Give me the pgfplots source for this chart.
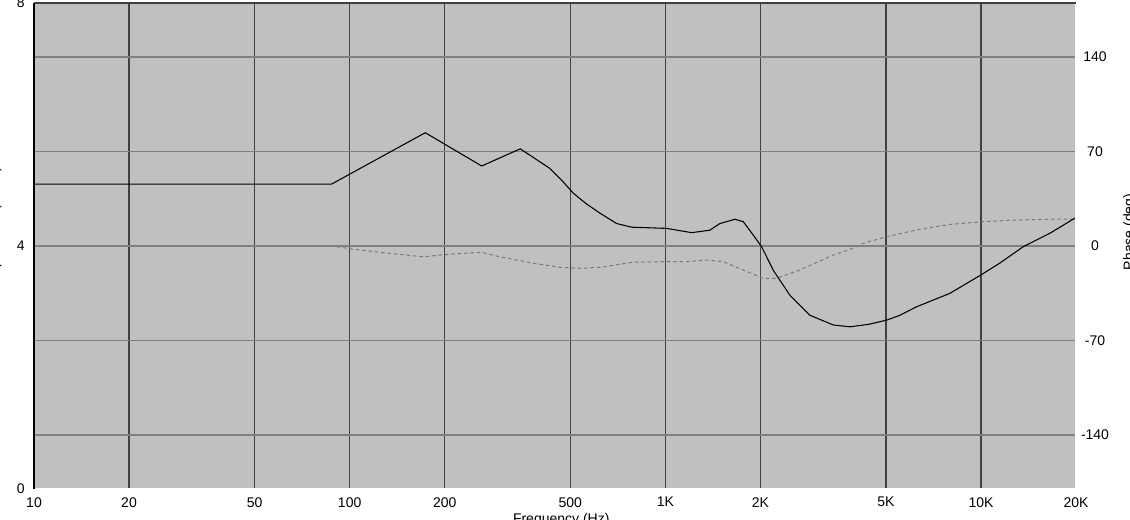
\documentclass[border=0pt]{standalone}
\usepackage{pgfplots}
\pgfplotsset{compat=1.18}
\usepackage{fontspec}
\setmainfont{Liberation Sans}

\definecolor{plotbg}{RGB}{192,192,192}
\definecolor{vgrid}{RGB}{64,64,64}
\definecolor{hgrid}{RGB}{128,128,128}
\definecolor{phasecol}{RGB}{120,120,120}

\begin{document}
% 1 px of the reference = 0.75pt
\begin{tikzpicture}[font=\fontsize{10.5}{12}\selectfont]
\useasboundingbox (-25.5pt,-22.5pt) rectangle (822pt,366.75pt);

% phase axis: background, grid, right ticks
\begin{axis}[
  scale only axis,
  width=781.5pt, height=364.5pt,
  at={(0,0)}, anchor=south west,
  xmode=log, xmin=10, xmax=20000,
  axis line style={draw=none},
  major tick length=0pt,
  tick style={draw=none},
  /pgf/number format/assume math mode=true,
  axis background/.style={fill=plotbg},
  ymin=-180, ymax=180,
  xtick={10,20,50,100,200,500,1000,2000,5000,10000,20000},
  xticklabels={10,20,50,100,200,500,1K,2K,5K,10K,20K},
  minor xtick={},
  xticklabel style={anchor=north, inner sep=0pt, yshift=-6pt},
  ytick={-140,-70,0,70,140},
  yticklabels={-140,-70,0,70,140},
  yticklabel pos=right,
  yticklabel style={anchor=center, inner sep=0pt, xshift=14.25pt},
  xmajorgrids, ymajorgrids,
  major x grid style={vgrid, line width=0.8pt},
  major y grid style={hgrid, line width=0.8pt},
]
\addplot[phasecol, line width=0.75pt, dash pattern=on 2.6pt off 2.2pt] coordinates {
 (91,-0.5) (100,-2) (128,-5) (171,-8) (208,-6) (262,-4.7) (299,-8)
 (382,-12.8) (464,-15.8) (536,-16.5) (621,-15.8) (791,-12) (1009,-11.6)
 (1167,-11.6) (1351,-10.4) (1525,-11.6) (1766,-17.8) (2042,-23.9)
 (2252,-23.9) (2667,-17.8) (3404,-6.7) (3845,-2.5) (4238,2) (5026,6.9)
 (6252,11.9) (7966,16) (10160,18) (12970,19.3) (16530,19.8) (20000,20)
};
\end{axis}

% impedance axis: left ticks and curve
\begin{axis}[
  scale only axis,
  width=781.5pt, height=364.5pt,
  at={(0,0)}, anchor=south west,
  xmode=log, xmin=10, xmax=20000,
  axis line style={draw=none},
  major tick length=0pt,
  tick style={draw=none},
  /pgf/number format/assume math mode=true,
  clip=false,
  ymin=0, ymax=8,
  xtick=\empty,
  ytick={0,4,8},
  yticklabels={0,4,8},
  yticklabel style={anchor=east, inner sep=0pt, xshift=-6.75pt},
]
\addplot[black, line width=0.8pt] coordinates {
 (10,5.02) (87.7,5.02) (173.6,5.865) (262,5.317) (347,5.60) (430,5.28)
 (470,5.08) (511,4.87) (560,4.70) (621,4.54) (701,4.37) (782,4.31)
 (1009,4.29) (1211,4.22) (1383,4.26) (1489,4.37) (1662,4.44) (1766,4.40)
 (1899,4.18) (2018,3.99) (2198,3.60) (2481,3.19) (2871,2.86) (3404,2.70)
 (3845,2.67) (4400,2.71) (5026,2.78) (5536,2.86) (6252,3.00) (7966,3.22)
 (10040,3.53) (11480,3.72) (13620,3.99) (16530,4.21) (20000,4.47)
};
% sunken frame
\draw[white, line width=1pt] (rel axis cs:0,0) -- (rel axis cs:1,0) -- (rel axis cs:1,1);
\draw[vgrid, line width=0.9pt] (rel axis cs:0,1) -- (rel axis cs:1,1);
\draw[black, line width=1.5pt] (rel axis cs:0,0) -- (rel axis cs:0,1);
\node[xshift=-26.5pt, rotate=90, anchor=base, inner sep=0pt] at (rel axis cs:0,0.543) {Impedance (ohms)};
\node[xshift=35.25pt, rotate=90, anchor=north, inner sep=0pt] at (rel axis cs:1,0.529) {Phase (deg)};
\node[anchor=north, inner sep=0pt, yshift=-18pt] at (rel axis cs:0.506,0) {Frequency (Hz)};
\end{axis}
\end{tikzpicture}
\end{document}
